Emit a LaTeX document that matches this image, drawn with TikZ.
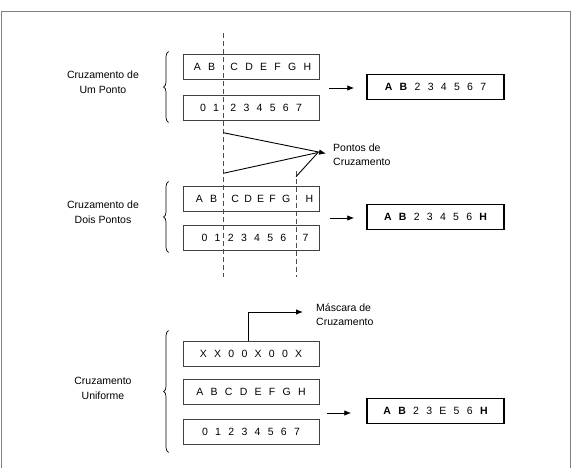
\documentclass[tikz,border=0pt]{standalone}
\usepackage{fontspec}
\setmainfont{Liberation Sans}
\newfontfamily\cellfont[WordSpace=2.5]{Liberation Sans}
\usetikzlibrary{arrows.meta, calc, decorations.pathreplacing}
\tikzstyle{chrom} = [rectangle, minimum width=136pt, minimum height=25pt, inner sep=0pt, text centered, draw=black!75, line width=0.9pt, font=\fontsize{10.5}{12}\cellfont]
\tikzstyle{child} = [chrom, draw=black, line width=1.5pt, minimum width=137pt]
\tikzstyle{caption} = [align=center, inner sep=0pt, font=\fontsize{10.5}{15}\selectfont]
\tikzstyle{note} = [align=left, anchor=west, inner sep=0pt, font=\fontsize{10.5}{14}\selectfont]
\tikzstyle{cut} = [dash pattern=on 5pt off 3pt, draw=black!70, line width=0.7pt]
\tikzstyle{grp} = [decorate, decoration={brace, amplitude=5pt}, line width=0.7pt]
\tikzstyle{link} = [-{Latex[length=7pt, width=5.5pt]}, line width=0.9pt]

\begin{document}
\begin{tikzpicture}[x=1pt, y=-1pt]
		\useasboundingbox (0,0) rectangle (579,468);
		\draw[draw=black!50, line width=1.5pt] (1.5,480) -- (1.5,11.5) -- (570.5,11.5) -- (570.5,480);

		\node (ab1) [chrom] at (251,67) {\hspace{3pt}A B\hspace{8pt} C D E F G H};
		\node (num1) [chrom] at ($(ab1) + (0,41)$) {0 1\hspace{4pt} 2 3 4 5 6 7};
		\node (res1) [child] at ($(ab1) + (184.5,20)$) {\textbf{A} \textbf{B} 2 3 4 5 6 7};
		\node (lbl1) [caption] at ($(ab1) + (-148,15.5)$) {Cruzamento de\\Um Ponto};

		\node (ab2) [chrom] at (251,199) {\hspace{7pt}A B\hspace{7pt} C\hspace{-2pt} D\hspace{-2pt} E\hspace{-2pt} F\hspace{-1pt} G\hspace{8pt} H};
		\node (num2) [chrom] at ($(ab2) + (0,38.5)$) {\hspace{8pt}0 1 2 3 4 5 6\hspace{9pt} 7};
		\node (res2) [child] at ($(ab2) + (184.5,18)$) {\textbf{A} \textbf{B} 2 3 4 5 6 \textbf{H}};
		\node (lbl2) [caption] at ($(ab2) + (-148,13.5)$) {Cruzamento de\\Dois Pontos};

		\node (mask) [chrom] at (251,353.5) {X X 0 0 X 0 0 X};
		\node (ab3) [chrom] at ($(mask) + (0,38.5)$) {A B C D E F G H};
		\node (num3) [chrom] at ($(ab3) + (0,40)$) {0 1 2 3 4 5 6 7};
		\node (res3) [child] at ($(ab3) + (184.5,19)$) {\textbf{A} \textbf{B} 2 3 E 5 6 \textbf{H}};
		\node (lbl3) [caption] at ($(ab3) + (-148,-3.5)$) {Cruzamento\\Uniforme};

		\draw[grp] ($(num1.south west) + (-14,1.5)$) -- ($(ab1.north west) + (-14,-2.5)$);
		\draw[grp] ($(num2.south west) + (-14,2)$) -- ($(ab2.north west) + (-14,-4.5)$);
		\draw[grp] ($(num3.south west) + (-14,7.5)$) -- ($(mask.north west) + (-14,-10)$);

		\draw[link] ($(res1.west) + (-37,1)$) -- ($(res1.west) + (-12,1)$);
		\draw[link] ($(res2.west) + (-36,1)$) -- ($(res2.west) + (-12,1)$);
		\draw[link] ($(res3.west) + (-39,2)$) -- ($(res3.west) + (-15,2)$);

		\coordinate (cut1top) at (223.3,33);
		\coordinate (cut1end) at (223.3,277);
		\coordinate (cut2top) at (296,171);
		\coordinate (cut2end) at (296,277);
		\draw[cut] (cut1top) -- (cut1end);
		\draw[cut] (cut2top) -- (cut2end);

		\node (pts) [note] at (333,155) {Pontos de\\Cruzamento};
		\coordinate (hit) at (326,153.5);
		\coordinate (hitbase) at (318,152.5);
		\coordinate (p1) at (223.3,132.7);
		\coordinate (p2) at (223.3,173.3);
		\coordinate (p3) at (296,176.7);
		\draw[link] (p1) -- (hit);
		\draw[line width=0.9pt] (p2) -- (hitbase);
		\draw[line width=0.9pt] (p3) -- (hitbase);

		\node (msk) [note] at (316,315) {Máscara de\\Cruzamento};
		\coordinate (mtip) at (303,312);
		\draw[link] ($(mask.north) + (-3,0)$) |- (mtip);
	\end{tikzpicture}
\end{document}
